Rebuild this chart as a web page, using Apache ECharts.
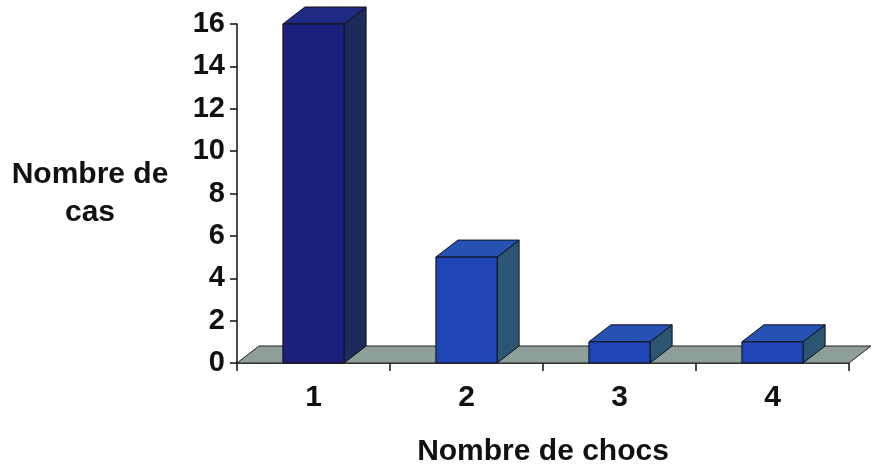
<!DOCTYPE html>
<html><head><meta charset="utf-8">
<script src="https://cdn.jsdelivr.net/npm/echarts@6/dist/echarts.min.js"></script>
<style>html,body{margin:0;padding:0;background:#fff}#c{width:877px;height:470px}</style>
</head><body><div id="c"></div>
<script>
const categories = ['1', '2', '3', '4'];
const values = [16, 5, 1, 1];
const yTicks = [0, 2, 4, 6, 8, 10, 12, 14, 16];
const xTitle = 'Nombre de chocs';
const yTitle = 'Nombre de\ncas';

const barStyles = [
  {front: '#1c1f7e', top: '#1f2a86', side: '#1d2b5c'},
  {front: '#1f44b6', top: '#2752b4', side: '#2c5574'},
  {front: '#1f44b6', top: '#2752b4', side: '#2c5574'},
  {front: '#1f44b6', top: '#2752b4', side: '#2c5574'}
];
const DX = 22, DY = -17;
const FONT = 'Liberation Sans, Arial, sans-serif';

const chart = echarts.init(document.getElementById('c'), null, {renderer: 'canvas'});

function floorItem(params, api) {
  const band = api.size([1, 0])[0];
  const p0 = api.coord([0, 0]);
  const p1 = api.coord([categories.length - 1, 0]);
  const xl = p0[0] - band / 2, xr = p1[0] + band / 2, y = p0[1];
  return {
    type: 'polygon',
    shape: {points: [[xl, y], [xr, y], [xr + DX, y + DY], [xl + DX, y + DY]]},
    style: {fill: '#8e9e99', stroke: '#222', lineWidth: 1}
  };
}

function barItem(params, api) {
  const idx = api.value(0), v = api.value(1);
  const band = api.size([1, 0])[0];
  const w = band * 0.4;
  const top = api.coord([idx, v]);
  const base = api.coord([idx, 0]);
  const x0 = top[0] - w / 2, x1 = top[0] + w / 2, yt = top[1], yb = base[1];
  const s = barStyles[idx];
  return {
    type: 'group',
    children: [
      {type: 'polygon', shape: {points: [[x1, yb], [x1 + DX, yb + DY], [x1 + DX, yt + DY], [x1, yt]]},
        style: {fill: s.side, stroke: '#111', lineWidth: 1}},
      {type: 'polygon', shape: {points: [[x0, yt], [x1, yt], [x1 + DX, yt + DY], [x0 + DX, yt + DY]]},
        style: {fill: s.top, stroke: '#111', lineWidth: 1}},
      {type: 'rect', shape: {x: x0, y: yt, width: w, height: yb - yt},
        style: {fill: s.front, stroke: '#111', lineWidth: 1}}
    ]
  };
}

chart.setOption({
  animation: false,
  backgroundColor: '#fff',
  grid: {left: 237, right: 28, top: 24, bottom: 107, outerBoundsMode: 'none', containLabel: false},
  xAxis: {
    type: 'category', data: categories,
    name: xTitle, nameLocation: 'middle', nameGap: 74,
    nameTextStyle: {fontFamily: FONT, fontWeight: 'bold', fontSize: 30, color: '#111'},
    axisLine: {show: true, lineStyle: {color: '#111', width: 1.5}},
    axisTick: {show: true, length: 8, lineStyle: {color: '#111', width: 1.5}},
    axisLabel: {fontFamily: FONT, fontWeight: 'bold', fontSize: 30, color: '#111', margin: 20},
    splitLine: {show: false}
  },
  yAxis: {
    type: 'value', min: 0, max: 16, interval: 2,
    name: yTitle, nameLocation: 'middle', nameGap: 147, nameRotate: 0,
    nameTextStyle: {fontFamily: FONT, fontWeight: 'bold', fontSize: 30, color: '#111', align: 'center', lineHeight: 38},
    axisLine: {show: true, lineStyle: {color: '#111', width: 1.5}},
    axisTick: {show: true, length: 7, lineStyle: {color: '#111', width: 1.5}},
    axisLabel: {fontFamily: FONT, fontWeight: 'bold', fontSize: 29, color: '#111', margin: 12,
      formatter: v => yTicks.includes(v) ? String(v) : ''},
    splitLine: {show: false}
  },
  series: [
    {type: 'custom', renderItem: floorItem, data: [[0, 0]], z: 1, silent: true},
    {type: 'custom', renderItem: barItem, data: values.map((v, i) => [i, v]), z: 2}
  ]
});
</script></body></html>
